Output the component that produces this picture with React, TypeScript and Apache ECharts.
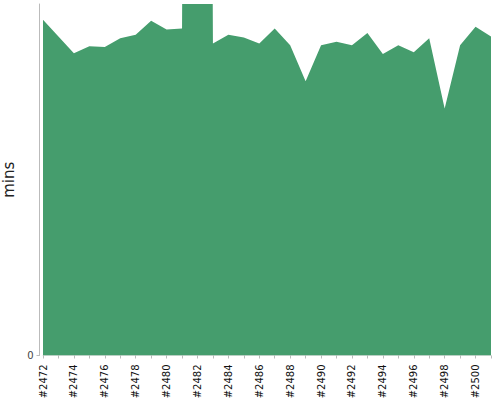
import React, { useEffect, useRef } from "react";
import * as echarts from "echarts";

const categories: string[] = [
  "#2472", "#2473", "#2474", "#2475", "#2476", "#2477", "#2478", "#2479", "#2480", "#2481",
  "#2482", "#2483", "#2484", "#2485", "#2486", "#2487", "#2488", "#2489", "#2490", "#2491",
  "#2492", "#2493", "#2494", "#2495", "#2496", "#2497", "#2498", "#2499", "#2500", "#2501",
];

const minutes: number[] = [
  38.2, 36.3, 34.4, 35.2, 35.1, 36.1, 36.5, 38.1, 37.1, 37.2,
  400, 35.5, 36.5, 36.2, 35.5, 37.2, 35.3, 31.2, 35.3, 35.7,
  35.3, 36.7, 34.3, 35.3, 34.5, 36.1, 28.1, 35.3, 37.4, 36.3,
];

const yMax = 40;
const yTickValues: number[] = [0];

export default function App() {
  const ref = useRef<HTMLDivElement>(null);
  useEffect(() => {
    if (!ref.current) return;
    const chart = echarts.init(ref.current, null, { renderer: "svg" });
    chart.setOption({
      animation: false,
      grid: { left: 43, right: 9, top: 4, bottom: 44.5, containLabel: false, outerBoundsMode: "none" },
      xAxis: {
        type: "category",
        data: categories,
        boundaryGap: false,
        offset: 5,
        axisLine: { show: true, lineStyle: { color: "#e2e2e2", width: 1 } },
        axisTick: { show: true, interval: 0, length: 3, lineStyle: { color: "#bbb" } },
        axisLabel: {
          interval: 1,
          rotate: 90,
          margin: 4,
          fontSize: 10,
          fontFamily: "DejaVu Sans",
          color: "#111",
        },
      },
      yAxis: {
        type: "value",
        min: 0,
        max: yMax,
        offset: 3.5,
        name: "mins",
        nameLocation: "middle",
        nameGap: 17,
        nameTextStyle: { fontSize: 15, fontFamily: "DejaVu Sans", color: "#222" },
        splitLine: { show: false },
        axisLine: { show: true, lineStyle: { color: "#bbb", width: 1 } },
        axisTick: { show: true, length: 3, lineStyle: { color: "#bbb" }, customValues: yTickValues },
        axisLabel: {
          customValues: yTickValues,
          margin: 6,
          fontSize: 10,
          fontFamily: "DejaVu Sans",
          color: "#444",
        },
      },
      series: [
        {
          type: "line",
          data: minutes,
          symbol: "none",
          clip: true,
          lineStyle: { width: 0, color: "#459d6d" },
          areaStyle: { color: "#459d6d", opacity: 1 },
          itemStyle: { color: "#459d6d" },
        },
      ],
    });
    return () => chart.dispose();
  }, []);
  return <div ref={ref} style={{ width: 500, height: 400, position: "absolute", left: 0, top: 0 }} />;
}
